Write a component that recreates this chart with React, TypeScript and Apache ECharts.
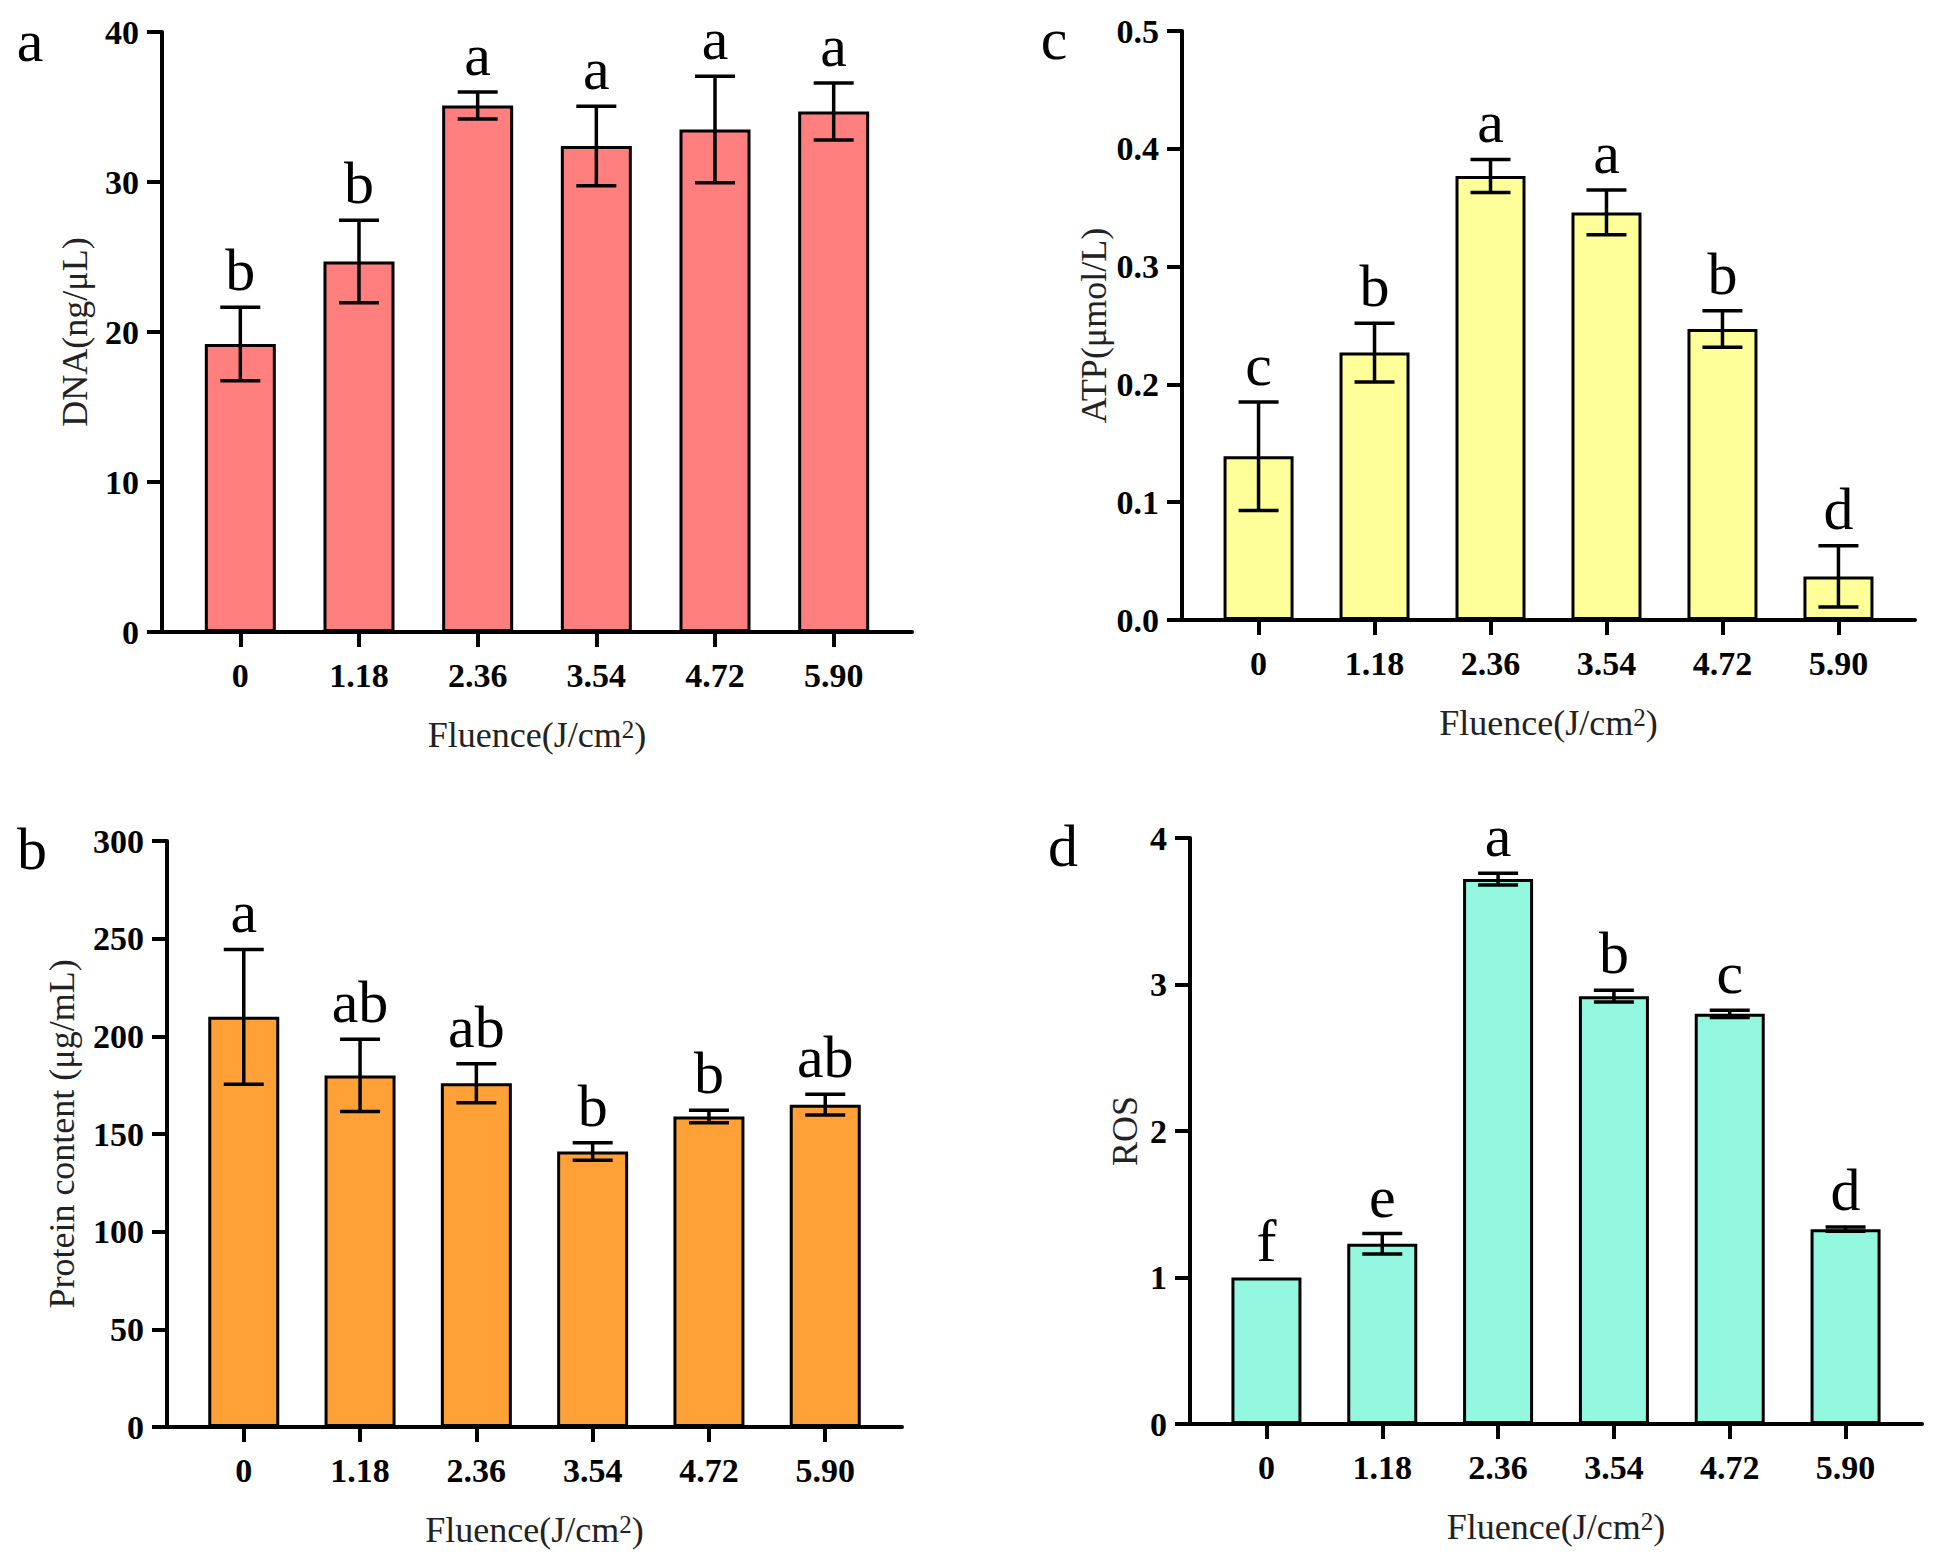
import React, { useEffect, useRef } from 'react';
import * as echarts from 'echarts';

// ---------- data ----------
const fluenceLabels = ['0', '1.18', '2.36', '3.54', '4.72', '5.90'];
const xPositions = [0, 1, 2, 3, 4, 5];

const dnaMean = [19.2, 24.7, 35.1, 32.4, 33.5, 34.7];
const dnaErr = [2.45, 2.75, 0.9, 2.65, 3.55, 1.9];
const dnaLetters = ['b', 'b', 'a', 'a', 'a', 'a'];

const proteinMean = [210, 180, 176, 141, 159, 165];
const proteinErr = [34.5, 18.5, 10, 4.5, 3.2, 5.3];
const proteinLetters = ['a', 'ab', 'ab', 'b', 'b', 'ab'];

const atpMean = [0.139, 0.227, 0.377, 0.346, 0.247, 0.037];
const atpErr = [0.046, 0.025, 0.014, 0.019, 0.0155, 0.026];
const atpLetters = ['c', 'b', 'a', 'a', 'b', 'd'];

const rosMean = [1.0, 1.23, 3.72, 2.92, 2.8, 1.33];
const rosErr = [0, 0.07, 0.04, 0.04, 0.025, 0.015];
const rosLetters = ['f', 'e', 'a', 'b', 'c', 'd'];

const dnaTicks = { min: 0, max: 40, interval: 10 };
const proteinTicks = { min: 0, max: 300, interval: 50 };
const atpTicks = { min: 0, max: 0.5, interval: 0.1 };
const rosTicks = { min: 0, max: 4, interval: 1 };

const FONT = '"Liberation Serif", "Times New Roman", serif';

type Panel = {
  mean: number[];
  err: number[];
  letters: string[];
  ticks: { min: number; max: number; interval: number };
  decimals: number;
  yName: string;
  yNameGap: number;
  color: string;
  barWidth: number;
  grid: { left: number; top: number; width: number; height: number };
  tag: string;
  tagPos: [number, number];
};

const panels: Panel[] = [
  {
    mean: dnaMean, err: dnaErr, letters: dnaLetters, ticks: dnaTicks, decimals: 0,
    yName: 'DNA(ng/μL)', yNameGap: 69, color: '#FF7F7F', barWidth: 71,
    grid: { left: 162, top: 32, width: 750, height: 600 }, tag: 'a', tagPos: [30, 71],
  },
  {
    mean: atpMean, err: atpErr, letters: atpLetters, ticks: atpTicks, decimals: 1,
    yName: 'ATP(μmol/L)', yNameGap: 70, color: '#FFFF99', barWidth: 70,
    grid: { left: 1182, top: 31, width: 733, height: 589 }, tag: 'c', tagPos: [1054, 69],
  },
  {
    mean: proteinMean, err: proteinErr, letters: proteinLetters, ticks: proteinTicks, decimals: 0,
    yName: 'Protein content (μg/mL)', yNameGap: 87, color: '#FFA136', barWidth: 71,
    grid: { left: 167, top: 841, width: 735, height: 586 }, tag: 'b', tagPos: [32, 879],
  },
  {
    mean: rosMean, err: rosErr, letters: rosLetters, ticks: rosTicks, decimals: 0,
    yName: 'ROS', yNameGap: 47, color: '#94F7DF', barWidth: 70,
    grid: { left: 1190, top: 838, width: 732, height: 586 }, tag: 'd', tagPos: [1063, 876],
  },
];

function buildOption() {
  const grid: any[] = [];
  const xAxis: any[] = [];
  const yAxis: any[] = [];
  const series: any[] = [];
  const graphic: any[] = [];

  panels.forEach((p, k) => {
    grid.push({ ...p.grid, containLabel: false });
    xAxis.push({
      type: 'value',
      gridIndex: k,
      min: -0.66,
      max: 5.66,
      splitLine: { show: false },
      axisLine: { show: true, onZero: false, lineStyle: { color: '#000', width: 4 } },
      axisTick: { show: true, customValues: xPositions, length: 15, lineStyle: { color: '#000', width: 4 } },
      axisLabel: {
        show: true,
        customValues: xPositions,
        formatter: (v: number) => fluenceLabels[Math.round(v)] ?? '',
        margin: 26,
        fontFamily: FONT,
        fontWeight: 'bold',
        fontSize: 34,
        color: '#000',
      },
      name: 'Fluence(J/cm{sup|2})',
      nameLocation: 'middle',
      nameGap: 85,
      nameTextStyle: {
        fontFamily: FONT,
        fontSize: 36,
        color: '#222',
        rich: { sup: { fontFamily: FONT, fontSize: 25, color: '#222', verticalAlign: 'top', padding: [0, 0, 6, 0] } },
      },
    });
    yAxis.push({
      type: 'value',
      gridIndex: k,
      min: p.ticks.min,
      max: p.ticks.max,
      interval: p.ticks.interval,
      splitLine: { show: false },
      axisLine: { show: true, onZero: false, lineStyle: { color: '#000', width: 4 } },
      axisTick: { show: true, length: 15, lineStyle: { color: '#000', width: 4 } },
      axisLabel: {
        margin: 23,
        fontFamily: FONT,
        fontWeight: 'bold',
        fontSize: 34,
        color: '#000',
        formatter: (v: number) => v.toFixed(p.decimals),
      },
      name: p.yName,
      nameLocation: 'middle',
      nameGap: p.yNameGap,
      nameTextStyle: { fontFamily: FONT, fontSize: 36, color: '#222' },
    });
    series.push({
      type: 'bar',
      xAxisIndex: k,
      yAxisIndex: k,
      barWidth: p.barWidth,
      data: p.mean.map((v, i) => [xPositions[i], v]),
      itemStyle: { color: p.color, borderColor: '#000', borderWidth: 3 },
      z: 2,
    });
    series.push({
      type: 'custom',
      xAxisIndex: k,
      yAxisIndex: k,
      z: 5,
      data: p.mean.map((v, i) => [xPositions[i], v, p.err[i]]),
      renderItem: (params: any, api: any) => {
        const x = api.value(0);
        const m = api.value(1);
        const e = api.value(2);
        const top = api.coord([x, m + e]);
        const bot = api.coord([x, m - e]);
        const cx = top[0];
        const children: any[] = [];
        const st = { stroke: '#000', lineWidth: 3.5 };
        if (e > 0) {
          children.push({ type: 'line', shape: { x1: cx, y1: top[1], x2: cx, y2: bot[1] }, style: st });
          children.push({ type: 'line', shape: { x1: cx - 20, y1: top[1], x2: cx + 20, y2: top[1] }, style: st });
          children.push({ type: 'line', shape: { x1: cx - 20, y1: bot[1], x2: cx + 20, y2: bot[1] }, style: st });
        }
        children.push({
          type: 'text',
          style: {
            text: p.letters[params.dataIndex],
            x: cx,
            y: top[1] - 7,
            align: 'center',
            verticalAlign: 'bottom',
            fontFamily: FONT,
            fontSize: 60,
            fill: '#000',
          },
        });
        return { type: 'group', children };
      },
    });
    graphic.push({
      type: 'text',
      x: p.tagPos[0],
      y: p.tagPos[1],
      style: {
        text: p.tag,
        align: 'center',
        verticalAlign: 'bottom',
        fontFamily: FONT,
        fontSize: 60,
        fill: '#000',
      },
    });
  });

  return {
    animation: false,
    backgroundColor: '#fff',
    grid,
    xAxis,
    yAxis,
    series,
    graphic,
  };
}

export default function App() {
  const ref = useRef<HTMLDivElement>(null);
  useEffect(() => {
    if (!ref.current) return;
    const chart = echarts.init(ref.current, undefined, { renderer: 'svg' });
    chart.setOption(buildOption() as any);
    return () => chart.dispose();
  }, []);
  return (
    <div
      ref={ref}
      style={{ position: 'absolute', left: 0, top: 0, width: 1945, height: 1566, background: '#fff' }}
    />
  );
}
